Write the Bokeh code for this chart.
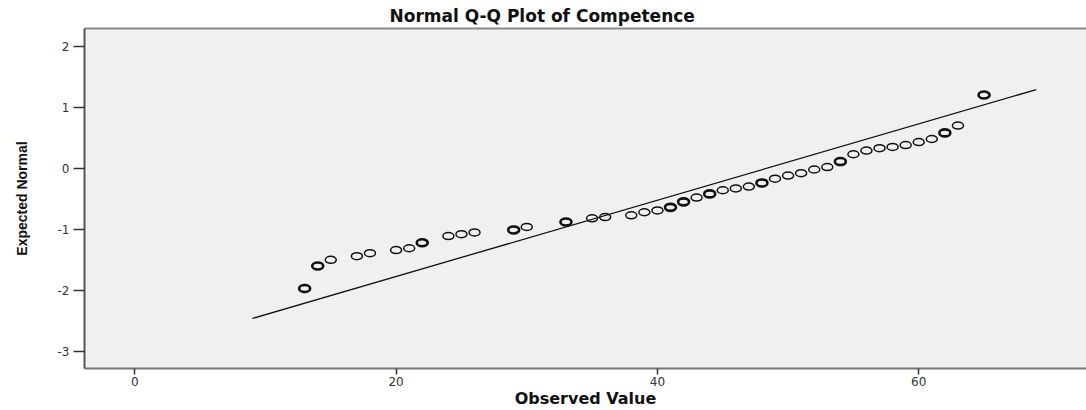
from bokeh.plotting import figure
from bokeh.models import Range1d, LinearAxis, FixedTicker, ColumnDataSource
from bokeh.embed import file_html
from bokeh.resources import INLINE

# ---- data ----
observed = [13, 14, 15, 17, 18, 20, 21, 22, 24, 25, 26, 29, 30, 33, 35, 36, 38, 39, 40,
            41, 42, 43, 44, 45, 46, 47, 48, 49, 50, 51, 52, 53, 54, 55, 56, 57, 58, 59,
            60, 61, 62, 63, 65]
expected = [-1.97, -1.60, -1.50, -1.44, -1.39, -1.34, -1.31, -1.22, -1.11, -1.08, -1.05,
            -1.01, -0.96, -0.88, -0.82, -0.80, -0.77, -0.72, -0.69, -0.64, -0.55, -0.48,
            -0.42, -0.36, -0.33, -0.30, -0.24, -0.17, -0.12, -0.08, -0.02, 0.02, 0.11,
            0.23, 0.29, 0.33, 0.35, 0.38, 0.43, 0.48, 0.58, 0.70, 1.20]
freq = [2, 2, 1, 1, 1, 1, 1, 2, 1, 1, 1, 2, 1, 2, 1, 1, 1, 1, 1, 2, 2, 1, 2, 1, 1, 1, 2,
        1, 1, 1, 1, 1, 2, 1, 1, 1, 1, 1, 1, 1, 2, 1, 2]
line_x = [9, 69]
line_y = [-2.46, 1.29]
x_ticks = [0, 20, 40, 60]
y_ticks = [-3, -2, -1, 0, 1, 2]

title_text = "Normal Q-Q Plot of Competence"
x_label = "Observed Value"
y_label = "Expected Normal"

src = ColumnDataSource(dict(
    x=observed, y=expected,
    lw=[2.6 if f > 1 else 1.5 for f in freq],
))

p = figure(width=1086, height=410,
           x_range=Range1d(-3.85, 72.84), y_range=Range1d(-3.28, 2.29),
           output_backend="svg", toolbar_location=None,
           min_border_left=84, min_border_right=0, min_border_top=28, min_border_bottom=41,
           background_fill_color="#f0f0f0", border_fill_color="white",
           outline_line_color=None)

p.title.text = title_text
p.title.text_font = "DejaVu Sans"
p.title.text_font_style = "bold"
p.title.text_font_size = "17px"
p.title.text_color = "#111111"
p.title.align = "left"
p.title.offset = 305
p.title.standoff = 6

p.xgrid.visible = False
p.ygrid.visible = False

# x axis
xa = p.xaxis[0]
xa.ticker = FixedTicker(ticks=x_ticks)
xa.axis_label = x_label
xa.axis_label_text_font = "DejaVu Sans"
xa.axis_label_text_font_style = "bold"
xa.axis_label_text_font_size = "16px"
xa.axis_label_text_color = "#111111"
xa.axis_label_standoff = 0
xa.major_label_text_font = "DejaVu Sans"
xa.major_label_text_font_size = "12px"
xa.major_label_text_color = "#333333"
xa.major_label_standoff = 2
xa.major_tick_out = 6
xa.major_tick_in = 0
xa.minor_tick_out = 0
xa.minor_tick_in = 0
xa.major_tick_line_color = "#333333"
xa.major_tick_line_width = 1.5
xa.axis_line_color = "#777777"
xa.axis_line_width = 2

# y axis
ya = p.yaxis[0]
ya.ticker = FixedTicker(ticks=y_ticks)
ya.major_label_overrides = {t: str(t) for t in y_ticks}
ya.axis_label = y_label
ya.axis_label_text_font = "Liberation Sans"
ya.axis_label_text_font_style = "bold"
ya.axis_label_text_font_size = "14px"
ya.axis_label_text_color = "#111111"
ya.axis_label_standoff = 25
ya.major_label_text_font = "DejaVu Sans"
ya.major_label_text_font_size = "12px"
ya.major_label_text_color = "#333333"
ya.major_label_standoff = 4
ya.major_tick_out = 11
ya.major_tick_in = 0
ya.minor_tick_out = 0
ya.minor_tick_in = 0
ya.major_tick_line_color = "#333333"
ya.major_tick_line_width = 1.5
ya.axis_line_color = "#555555"
ya.axis_line_width = 2

# top border as a bare axis
top = LinearAxis(ticker=FixedTicker(ticks=[]), major_label_text_font_size="0px",
                 major_tick_out=0, major_tick_in=0, minor_tick_out=0, minor_tick_in=0,
                 major_label_standoff=0, axis_line_color="#8a8a8a", axis_line_width=2)
p.add_layout(top, "above")

# reference line
p.line(line_x, line_y, line_color="#111111", line_width=1.3)

# points
p.ellipse(x="x", y="y", width=11, height=7, width_units="screen", height_units="screen",
          fill_color=None, line_color="#111111", line_width="lw", source=src)

open("out.html", "w").write(file_html(p, INLINE))
